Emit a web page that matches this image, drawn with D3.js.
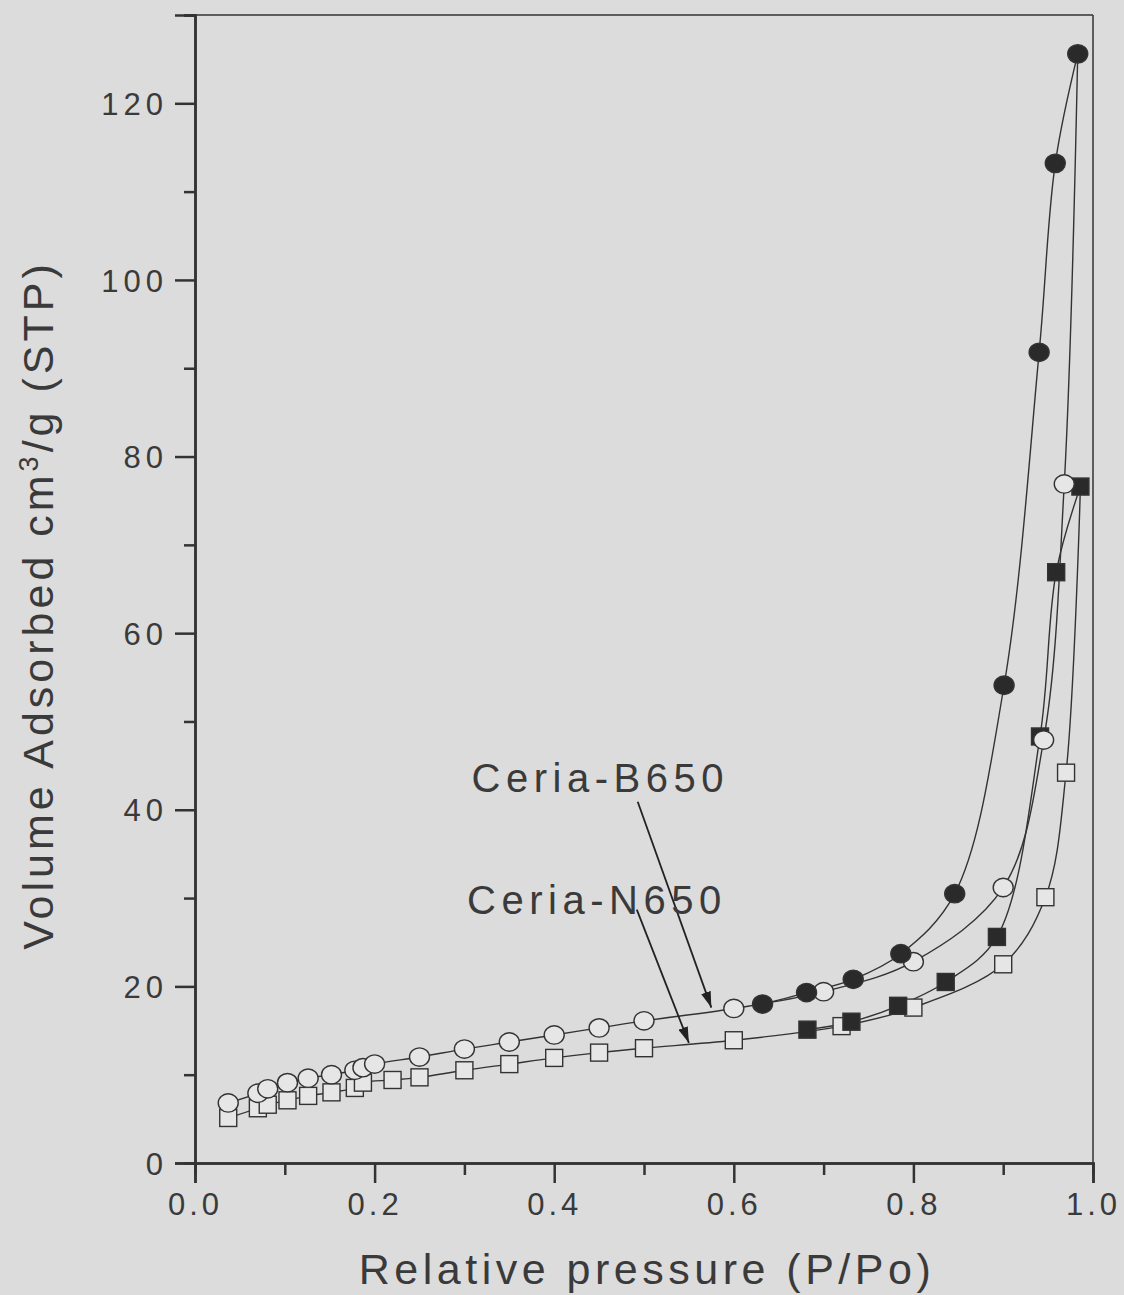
<!DOCTYPE html>
<html><head><meta charset="utf-8">
<script src="https://cdn.jsdelivr.net/npm/d3@7"></script>
<style>html,body{margin:0;padding:0;background:#dcdcdc;} svg{display:block}</style>
</head><body><svg id="c" width="1124" height="1295"></svg>
<script>
// ---- data ----
const xTickValues = [0, 0.2, 0.4, 0.6, 0.8, 1.0];
const xTickLabels = ["0.0", "0.2", "0.4", "0.6", "0.8", "1.0"];
const yTickValues = [0, 20, 40, 60, 80, 100, 120];
const yTickLabels = ["0", "20", "40", "60", "80", "100", "120"];

// Ceria-B650 adsorption (open circles)
const b650AdsP = [0.037, 0.07, 0.081, 0.103, 0.126, 0.152, 0.178, 0.187, 0.2, 0.25, 0.3, 0.35, 0.4, 0.45, 0.5, 0.6, 0.7, 0.8, 0.9, 0.945, 0.968];
const b650AdsV = [6.8, 7.9, 8.4, 9.1, 9.6, 10.0, 10.5, 10.8, 11.2, 12.0, 12.9, 13.7, 14.5, 15.3, 16.1, 17.5, 19.4, 22.8, 31.2, 47.9, 76.9];
// Ceria-B650 desorption (filled circles)
const b650DesP = [0.983, 0.958, 0.94, 0.901, 0.846, 0.786, 0.733, 0.681, 0.632];
const b650DesV = [125.6, 113.2, 91.8, 54.1, 30.5, 23.7, 20.8, 19.3, 18.0];
// Ceria-N650 adsorption (open squares)
const n650AdsP = [0.037, 0.07, 0.081, 0.103, 0.126, 0.152, 0.178, 0.187, 0.22, 0.25, 0.3, 0.35, 0.4, 0.45, 0.5, 0.6, 0.72, 0.8, 0.9, 0.947, 0.97];
const n650AdsV = [5.1, 6.2, 6.6, 7.1, 7.6, 8.0, 8.5, 9.1, 9.4, 9.7, 10.5, 11.2, 11.9, 12.5, 13.0, 13.9, 15.5, 17.6, 22.5, 30.1, 44.2];
// Ceria-N650 desorption (filled squares)
const n650DesP = [0.986, 0.959, 0.941, 0.893, 0.836, 0.783, 0.731, 0.682];
const n650DesV = [76.6, 66.9, 48.3, 25.6, 20.5, 17.8, 16.0, 15.1];

// annotations (data units)
const labelNames = ["Ceria-B650", "Ceria-N650"];
const labelPos = [[0.308, 42.0], [0.303, 28.2]];
const arrowFrom = [[0.493, 40.9], [0.492, 28.7]];
const arrowTo = [[0.575, 17.6], [0.550, 13.6]];

// ---- drawing ----
const svg = d3.select("#c");
const ink = "#333";
const textCol = "#3a3a3a";
const font = "'Liberation Sans', Arial, sans-serif";

const x = d3.scaleLinear().domain([0, 1]).range([195, 1093]);
const y = d3.scaleLinear().domain([0, 130]).range([1163, 15]);

svg.append("rect").attr("width", 1124).attr("height", 1295).attr("fill", "#dcdcdc");

// frame top/right
svg.append("line").attr("x1", x(0)).attr("x2", x(1)).attr("y1", y(130)).attr("y2", y(130))
  .attr("stroke", ink).attr("stroke-width", 1.5);
svg.append("line").attr("x1", x(1)).attr("x2", x(1)).attr("y1", y(130)).attr("y2", y(0))
  .attr("stroke", ink).attr("stroke-width", 1.5);

// axes
const xAxisMinor = d3.axisBottom(x).tickValues(d3.range(0.1, 1, 0.2)).tickSize(12).tickFormat("");
const xAxis = d3.axisBottom(x).tickValues(xTickValues).tickSize(20).tickPadding(10)
  .tickFormat((d, i) => xTickLabels[i]);
const yAxisMinor = d3.axisLeft(y).tickValues(d3.range(10, 131, 20)).tickSize(11).tickFormat("");
const yAxis = d3.axisLeft(y).tickValues(yTickValues).tickSize(20).tickPadding(12)
  .tickFormat((d, i) => yTickLabels[i]);

function styleAxis(g) {
  g.select(".domain").attr("stroke", ink).attr("stroke-width", 2.5);
  g.selectAll(".tick line").attr("stroke", ink).attr("stroke-width", 2.5);
  g.selectAll("text").attr("fill", textCol).style("font-family", font).style("font-size", "31px");
}
svg.append("g").attr("transform", `translate(0,${y(0)})`).call(xAxisMinor).call(styleAxis);
const gx = svg.append("g").attr("transform", `translate(0,${y(0)})`).call(xAxis).call(styleAxis);
gx.selectAll("text").style("letter-spacing", "4px");
svg.append("g").attr("transform", `translate(${x(0)},0)`).call(yAxisMinor).call(styleAxis);
const gy = svg.append("g").attr("transform", `translate(${x(0)},0)`).call(yAxis).call(styleAxis);
gy.selectAll("text").style("letter-spacing", "5px").attr("dx", "5px").attr("dy", "0.36em");

// axis titles
svg.append("text").attr("x", 647).attr("y", 1284).attr("text-anchor", "middle")
  .attr("fill", textCol).style("font-family", font).style("font-size", "43px").style("letter-spacing", "4.5px")
  .text("Relative pressure (P/Po)");
const yt = svg.append("text").attr("transform", `translate(53,${605}) rotate(-90)`).attr("text-anchor", "middle")
  .attr("fill", textCol).style("font-family", font).style("font-size", "43px").style("letter-spacing", "4px");
yt.append("tspan").text("Volume Adsorbed cm");
yt.append("tspan").attr("dy", "-15").style("font-size", "27px").text("3");
yt.append("tspan").attr("dy", "15").text("/g (STP)");

// curves
const line = d3.line().x(d => x(d[0])).y(d => y(d[1])).curve(d3.curveCatmullRom.alpha(0.5));
const zip = (a, b) => a.map((v, i) => [v, b[i]]);
const b650Ads = zip(b650AdsP, b650AdsV);
const b650Des = zip(b650DesP, b650DesV);
const n650Ads = zip(n650AdsP, n650AdsV);
const n650Des = zip(n650DesP, n650DesV);

const curves = [
  n650Ads.concat([n650Des[0]]),
  n650Des,
  b650Ads.concat([b650Des[0]]),
  b650Des
];
svg.append("g").selectAll("path").data(curves).join("path")
  .attr("d", line).attr("fill", "none").attr("stroke", ink).attr("stroke-width", 1.4);

// markers
const sq = 17, r = 10;
function squares(data, fill) {
  svg.append("g").selectAll("rect").data(data).join("rect")
    .attr("x", d => x(d[0]) - sq / 2).attr("y", d => y(d[1]) - sq / 2)
    .attr("width", sq).attr("height", sq)
    .attr("fill", fill).attr("stroke", ink).attr("stroke-width", 1.4);
}
function circles(data, fill) {
  svg.append("g").selectAll("ellipse").data(data).join("ellipse")
    .attr("cx", d => x(d[0])).attr("cy", d => y(d[1]))
    .attr("rx", r).attr("ry", r - 0.8)
    .attr("fill", fill).attr("stroke", ink).attr("stroke-width", 1.4);
}
squares(n650Ads, "#e6e6e6");
squares(n650Des, "#2a2a2a");
circles(b650Ads, "#e6e6e6");
circles(b650Des, "#2a2a2a");

// annotations
svg.append("defs").append("marker").attr("id", "ah")
  .attr("viewBox", "0 0 16 10").attr("refX", 16).attr("refY", 5)
  .attr("markerWidth", 16).attr("markerHeight", 10).attr("markerUnits", "userSpaceOnUse")
  .attr("orient", "auto")
  .append("path").attr("d", "M0,0 L16,5 L0,10 Z").attr("fill", "#222");

svg.append("g").selectAll("line").data(arrowFrom).join("line")
  .attr("x1", d => x(d[0])).attr("y1", d => y(d[1]))
  .attr("x2", (d, i) => x(arrowTo[i][0])).attr("y2", (d, i) => y(arrowTo[i][1]))
  .attr("stroke", "#222").attr("stroke-width", 1.8).attr("marker-end", "url(#ah)");

svg.append("g").selectAll("text").data(labelNames).join("text")
  .attr("x", (d, i) => x(labelPos[i][0])).attr("y", (d, i) => y(labelPos[i][1]))
  .attr("fill", textCol).style("font-family", font).style("font-size", "40px").style("letter-spacing", "5.5px")
  .text(d => d);
</script>
</body></html>
